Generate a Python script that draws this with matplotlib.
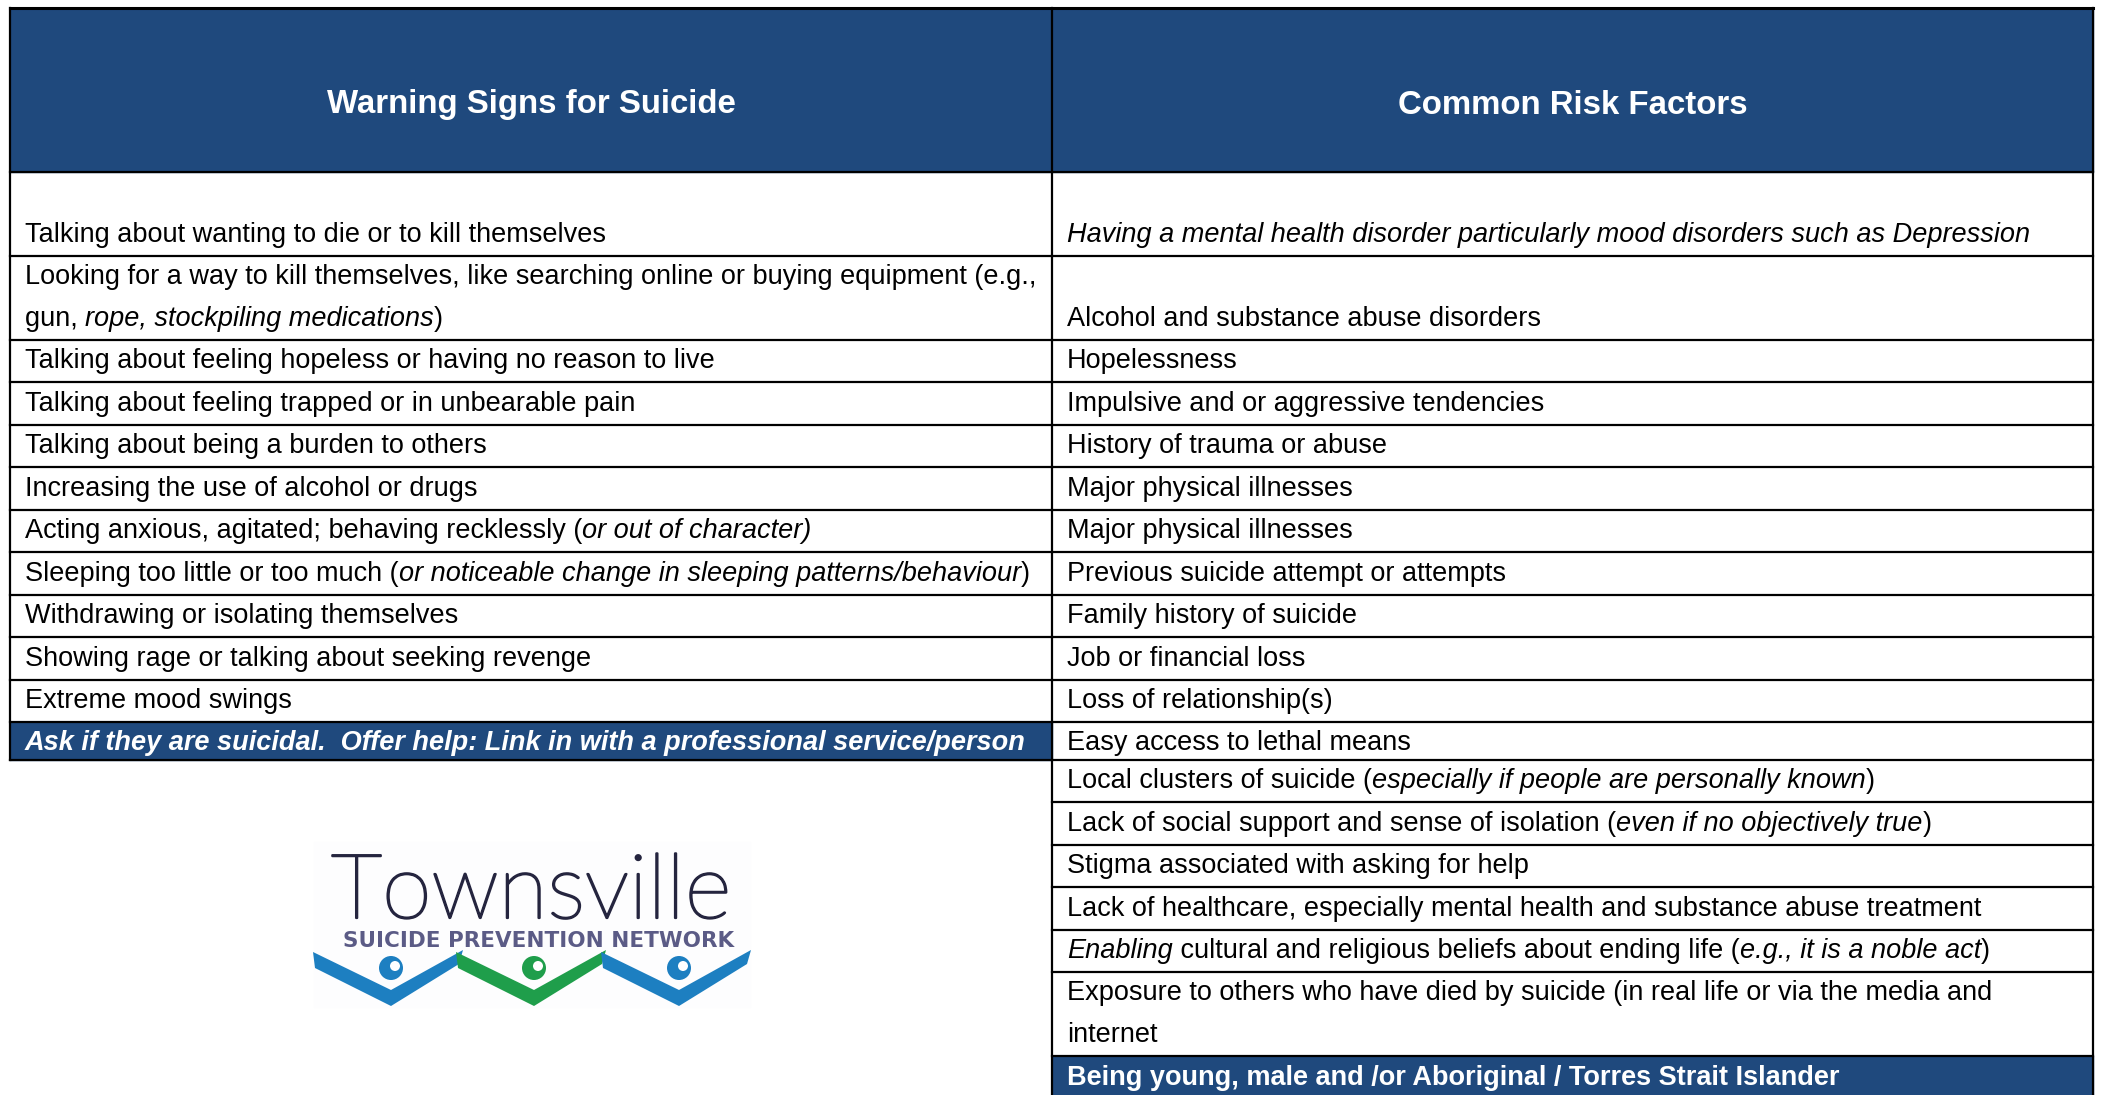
import matplotlib
matplotlib.use('Agg')
import matplotlib.pyplot as plt
from matplotlib import font_manager
from matplotlib import patheffects
from matplotlib.patches import Rectangle, Polygon, Circle

W, H = 2101, 1095
navy = '#1F497D'

header_left = 'Warning Signs for Suicide'
header_right = 'Common Risk Factors'

# each row is a list of lines, each line a list of (text, italic)
warning_signs = [
    [[('Talking about wanting to die or to kill themselves', False)]],
    [[('Looking for a way to kill themselves, like searching online or buying equipment (e.g.,', False)],
     [('gun, ', False), ('rope, stockpiling medications', True), (')', False)]],
    [[('Talking about feeling hopeless or having no reason to live', False)]],
    [[('Talking about feeling trapped or in unbearable pain', False)]],
    [[('Talking about being a burden to others', False)]],
    [[('Increasing the use of alcohol or drugs', False)]],
    [[('Acting anxious, agitated; behaving recklessly (', False), ('or out of character)', True)]],
    [[('Sleeping too little or too much (', False),
      ('or noticeable change in sleeping patterns/behaviour', True), (')', False)]],
    [[('Withdrawing or isolating themselves', False)]],
    [[('Showing rage or talking about seeking revenge', False)]],
    [[('Extreme mood swings', False)]],
]
warning_action = 'Ask if they are suicidal.  Offer help: Link in with a professional service/person'

risk_factors = [
    [[('Having a mental health disorder particularly mood disorders such as Depression', True)]],
    [[('Alcohol and substance abuse disorders', False)]],
    [[('Hopelessness', False)]],
    [[('Impulsive and or aggressive tendencies', False)]],
    [[('History of trauma or abuse', False)]],
    [[('Major physical illnesses', False)]],
    [[('Major physical illnesses', False)]],
    [[('Previous suicide attempt or attempts', False)]],
    [[('Family history of suicide', False)]],
    [[('Job or financial loss', False)]],
    [[('Loss of relationship(s)', False)]],
    [[('Easy access to lethal means', False)]],
    [[('Local clusters of suicide (', False), ('especially if people are personally known', True), (')', False)]],
    [[('Lack of social support and sense of isolation (', False), ('even if no objectively true', True), (')', False)]],
    [[('Stigma associated with asking for help', False)]],
    [[('Lack of healthcare, especially mental health and substance abuse treatment', False)]],
    [[('Enabling', True), (' cultural and religious beliefs about ending life (', False),
      ('e.g., it is a noble act', True), (')', False)]],
    [[('Exposure to others who have died by suicide (in real life or via the media and', False)],
     [('internet', False)]],
]
risk_last = 'Being young, male and /or Aboriginal / Torres Strait Islander'

logo_title = 'Townsville'
logo_sub = 'SUICIDE PREVENTION NETWORK'

# layout (pixels)
x0, xm, x1 = 10, 1052, 2093
y_top, y_head = 8, 172
left_h = [84, 84, 42, 43, 42, 43, 42, 43, 42, 43, 42, 38]
right_h = [84, 84, 42, 43, 42, 43, 42, 43, 42, 43, 42, 38, 42, 43, 42, 43, 42, 84, 44]

names = {f.name for f in font_manager.fontManager.ttflist}
body = 'Liberation Sans Narrow' if 'Liberation Sans Narrow' in names else 'Liberation Sans'

fig = plt.figure(figsize=(W / 100, H / 100), dpi=100)
ax = fig.add_axes([0, 0, 1, 1])
ax.set_xlim(0, W)
ax.set_ylim(H, 0)
ax.axis('off')
r = fig.canvas.get_renderer()


def fit_size(s, target, **kw):
    t = ax.text(0, 0, s, fontsize=20, **kw)
    w = t.get_window_extent(r).width
    t.remove()
    return 20 * target / w


fs = fit_size('Sleeping too little or too much (or noticeable change in sleeping patterns/behaviour)',
              1000, family=body)
fs = min(fs, 21)


def draw_line(x, y, segs, color='black', weight='normal'):
    for txt, it in segs:
        t = ax.text(x, y, txt, family=body, fontsize=fs, color=color, fontweight=weight,
                    style='italic' if it else 'normal', ha='left', va='baseline')
        x += t.get_window_extent(r).width


def draw_cell(xl, bottom, h, lines, color='black', weight='normal'):
    n = len(lines)
    pad = max(10, min(14, h - 28))
    for i, segs in enumerate(lines):
        draw_line(xl + 15, bottom - pad - 42 * (n - 1 - i), segs, color, weight)


lw = 1.6
# header
ax.add_patch(Rectangle((x0, y_top), x1 - x0, y_head - y_top, color=navy, zorder=0))
ax.text((x0 + xm) / 2, 105, header_left, family=body, fontsize=fs * 1.22, fontweight='bold',
        color='white', ha='center', va='center')
ax.text((xm + x1) / 2, 105, header_right, family=body, fontsize=fs * 1.22, fontweight='bold',
        color='white', ha='center', va='center')

# left column
y = y_head
for h, row in zip(left_h, warning_signs + [None]):
    b = y + h
    if row is None:
        ax.add_patch(Rectangle((x0, y), xm - x0, h, color=navy, zorder=0))
        draw_cell(x0, b, h, [[(warning_action, True)]], 'white', 'bold')
    else:
        draw_cell(x0, b, h, row)
    ax.plot([x0, xm], [b, b], color='black', lw=lw)
    y = b
left_bottom = y

# right column
y = y_head
for h, row in zip(right_h, risk_factors + [None]):
    b = y + h
    if row is None:
        ax.add_patch(Rectangle((xm, y), x1 - xm, h, color=navy, zorder=0))
        draw_line(xm + 15, y + 29, [(risk_last, False)], 'white', 'bold')
    else:
        draw_cell(xm, b, h, row)
        ax.plot([xm, x1], [b, b], color='black', lw=lw)
    y = b

# frame
ax.plot([x0, x1], [y_top, y_top], color='black', lw=2.2)
ax.plot([x0, x1], [y_head, y_head], color='black', lw=lw)
ax.plot([x0, x0], [y_top, left_bottom], color='black', lw=lw)
ax.plot([xm, xm], [y_top, H], color='black', lw=lw)
ax.plot([x1, x1], [y_top, H], color='black', lw=lw)

# logo
ax.add_patch(Rectangle((314, 842), 436, 165, color='#fdfdfe', zorder=0))
tsz = fit_size(logo_title, 400, family='Lato', fontweight='light')
ax.text(331, 918, logo_title, family='Lato', fontweight='light', fontsize=tsz,
        color='#25253f', ha='left', va='baseline',
        path_effects=[patheffects.withStroke(linewidth=1.6, foreground='#25253f')])
ssz = fit_size(logo_sub, 388, family='DejaVu Sans', fontweight='bold')
ax.text(343, 947, logo_sub, family='DejaVu Sans', fontweight='bold', fontsize=ssz,
        color='#5b5b86', ha='left', va='baseline')
for cx, col in zip([391, 534, 679], ['#1d7fc1', '#1f9e4b', '#1d7fc1']):
    ax.add_patch(Polygon([(cx - 78, 952), (cx, 990), (cx + 72, 950), (cx + 68, 964),
                          (cx, 1006), (cx - 76, 968)], closed=True, color=col, lw=0))
    ax.add_patch(Circle((cx, 968), 12, color=col, lw=0))
    ax.add_patch(Circle((cx + 4, 966), 5, color='white', lw=0))

fig.savefig('out.png', dpi=100)
